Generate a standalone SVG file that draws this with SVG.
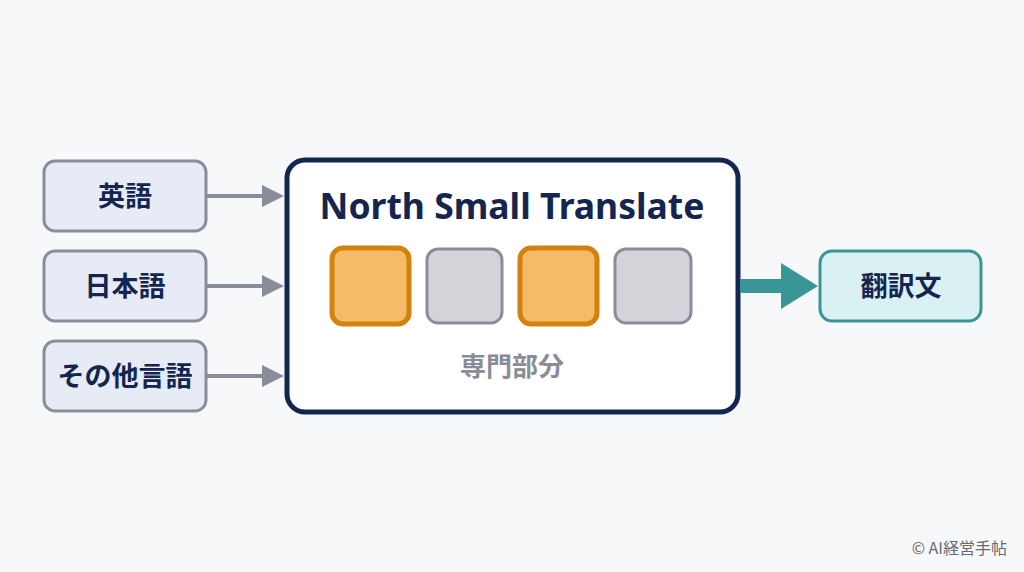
<svg xmlns="http://www.w3.org/2000/svg" width="1024" height="572" viewBox="0 0 1024 572">
<defs>
<style>
.in rect{fill:#e6ebf5;stroke:#8a8d9a;stroke-width:3}
.lbl{font-family:"Noto Sans CJK JP","Noto Sans",sans-serif;font-weight:700;font-size:27px;fill:#14264f;text-anchor:middle}
.conn line{stroke:#8a8c99;stroke-width:4}
.org{fill:#f6bb66;stroke:#d4820e;stroke-width:5}
.gry{fill:#d3d4da;stroke:#8b8c99;stroke-width:3}
</style>
<marker id="ah" viewBox="0 0 10 10" refX="0" refY="5" markerWidth="5.5" markerHeight="6.5" markerUnits="strokeWidth" orient="auto">
<path d="M0,0 L10,5 L0,10 Z" fill="#8a8c99"/>
</marker>
</defs>
<rect width="1024" height="572" fill="#f7f8fa"/>
<g id="n-en" class="in"><rect x="44" y="161" width="162" height="70" rx="11"/><text class="lbl" x="125" y="206">英語</text></g>
<g id="n-ja" class="in"><rect x="44" y="251" width="162" height="70" rx="11"/><text class="lbl" x="125" y="296">日本語</text></g>
<g id="n-other" class="in"><rect x="44" y="341" width="162" height="70" rx="11"/><text class="lbl" x="125" y="386">その他言語</text></g>
<g id="n-main">
<rect x="287" y="160" width="451" height="252" rx="18" fill="#ffffff" stroke="#14264f" stroke-width="5"/>
<text x="512" y="219" font-family="'Noto Sans','Open Sans',sans-serif" font-weight="700" font-size="35.5" fill="#14264f" text-anchor="middle">North Small Translate</text>
<rect class="org" x="332" y="248" width="77" height="76" rx="11"/>
<rect class="gry" x="427" y="249" width="75" height="74" rx="11"/>
<rect class="org" x="520" y="248" width="77" height="76" rx="11"/>
<rect class="gry" x="615" y="249" width="76" height="74" rx="11"/>
<text x="512" y="376" font-family="'Noto Sans CJK JP',sans-serif" font-weight="700" font-size="26" fill="#8a8c96" text-anchor="middle">専門部分</text>
</g>
<g id="n-out">
<rect x="820" y="251" width="161" height="70" rx="12" fill="#d9f1f3" stroke="#3a9696" stroke-width="3"/>
<text class="lbl" x="901" y="296">翻訳文</text>
</g>
<g id="connectors" class="conn">
<line x1="206" y1="196" x2="262" y2="196" marker-end="url(#ah)"/>
<line x1="206" y1="286" x2="262" y2="286" marker-end="url(#ah)"/>
<line x1="206" y1="376" x2="262" y2="376" marker-end="url(#ah)"/>
<path d="M740,279 L781,279 L781,263 L818,286 L781,309 L781,293 L740,293 Z" fill="#3a9696"/>
</g>
<text x="1007" y="554" font-family="'Noto Sans CJK JP',sans-serif" font-size="16" fill="#666a70" text-anchor="end">© AI経営手帖</text>
</svg>
